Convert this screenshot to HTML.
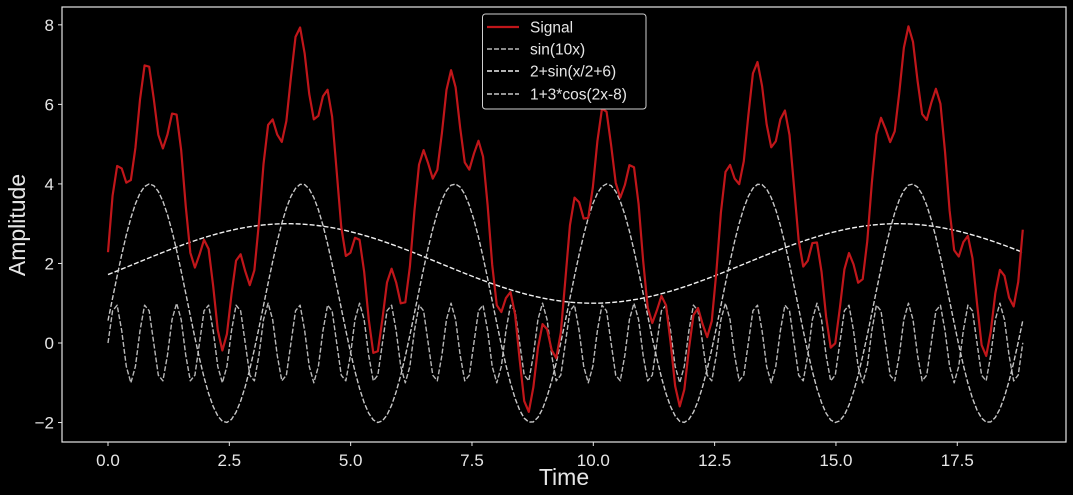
<!DOCTYPE html>
<html><head><meta charset="utf-8"><style>
html,body{margin:0;padding:0;background:#000;}
svg{display:block;font-family:"Liberation Sans","DejaVu Sans",sans-serif;}
</style></head><body>
<svg id="chart" width="1073" height="495" xmlns="http://www.w3.org/2000/svg">
<rect width="1073" height="495" fill="#000"/>
<g id="series"></g>
<rect x="62" y="7" width="1004" height="435" fill="none" stroke="#e6e6e6" stroke-width="1.2"/>
<g id="axes"></g>
<text x="564" y="485" fill="#e6e6e6" font-size="23" text-anchor="middle">Time</text>
<text x="0" y="0" transform="translate(25,225) rotate(-90)" fill="#e6e6e6" font-size="23" text-anchor="middle">Amplitude</text>
<g>
<rect x="482.5" y="14" width="163.5" height="95" rx="3" fill="#000" stroke="#cfcfcf" stroke-width="1"/>
<g><line x1="487" y1="27" x2="519" y2="27" stroke="#c0161a" stroke-width="2.2"/><text x="530" y="32.5" fill="#e6e6e6" font-size="15.5">Signal</text></g>
<g><line x1="487" y1="49" x2="519" y2="49" stroke="#b8b8b8" stroke-width="1.4" stroke-dasharray="5,2"/><text x="530" y="54.5" fill="#e6e6e6" font-size="15.5">sin(10x)</text></g>
<g><line x1="487" y1="71" x2="519" y2="71" stroke="#f0f0f0" stroke-width="1.4" stroke-dasharray="5,2"/><text x="530" y="76.5" fill="#e6e6e6" font-size="15.5">2+sin(x/2+6)</text></g>
<g><line x1="487" y1="94" x2="519" y2="94" stroke="#c8c8c8" stroke-width="1.4" stroke-dasharray="5,2"/><text x="530" y="99.5" fill="#e6e6e6" font-size="15.5">1+3*cos(2x-8)</text></g>
</g>
</svg>
<script>
// Component parameters (from legend): offset + amp * wave(freq*x + phase)
const componentNames = ["sin(10x)", "2+sin(x/2+6)", "1+3*cos(2x-8)"];
const componentOffsets = [0, 2, 1];
const componentAmps = [1, 1, 3];
const componentFreqs = [10, 0.5, 2];
const componentPhases = [0, 6, -8];
const componentWaves = ["sin", "sin", "cos"];
const xDomain = [0, 18.85];
const xTickLabels = ["0.0", "2.5", "5.0", "7.5", "10.0", "12.5", "15.0", "17.5"];
const xTickValues = [0, 2.5, 5, 7.5, 10, 12.5, 15, 17.5];
const yTickValues = [-2, 0, 2, 4, 6, 8];
const yTickLabels = ["\u22122", "0", "2", "4", "6", "8"];

const NS = "http://www.w3.org/2000/svg";
const xs = v => 108 + v * 48.53;
const ys = v => 343 - v * 39.77;
const colors = ["#b8b8b8", "#f0f0f0", "#c8c8c8"];
const N = 200;
const xvals = [];
for (let i = 0; i <= N; i++) xvals.push(xDomain[0] + (xDomain[1] - xDomain[0]) * i / N);
function comp(k, x) {
  const a = componentFreqs[k] * x + componentPhases[k];
  return componentOffsets[k] + componentAmps[k] * (componentWaves[k] === "sin" ? Math.sin(a) : Math.cos(a));
}
const series = document.getElementById("series");
function mkPath(vals, color, w, dash, name) {
  const p = document.createElementNS(NS, "path");
  p.setAttribute("d", vals.map((v, i) => (i ? "L" : "M") + xs(xvals[i]).toFixed(2) + "," + ys(v).toFixed(2)).join(""));
  p.setAttribute("fill", "none");
  p.setAttribute("stroke", color);
  p.setAttribute("stroke-width", w);
  p.setAttribute("stroke-linejoin", "round");
  if (dash) p.setAttribute("stroke-dasharray", dash);
  
  
  series.appendChild(p);
}
const names = ["sin10x-line", "slow-sine-line", "cosine-line"];
const signal = xvals.map(x => 0);
for (let k = 0; k < componentNames.length; k++) {
  const vals = xvals.map(x => comp(k, x));
  vals.forEach((v, i) => signal[i] += v);
  mkPath(vals, colors[k], 1.4, "5,2", names[k]);
}
mkPath(signal, "#c0161a", 2.2, null, "signal-line");

const axes = document.getElementById("axes");
function addEl(tag, attrs, text) {
  const e = document.createElementNS(NS, tag);
  for (const k in attrs) e.setAttribute(k, attrs[k]);
  if (text !== undefined) e.textContent = text;
  axes.appendChild(e);
  return e;
}
xTickValues.forEach((v, i) => {
  const x = xs(v);
  const t = addEl("line", {x1: x, y1: 442, x2: x, y2: 446, stroke: "#e6e6e6", "stroke-width": 1});
  
  
  const l = addEl("text", {x: x, y: 466, fill: "#e6e6e6", "font-size": 17, "text-anchor": "middle"}, xTickLabels[i]);
  
  
});
yTickValues.forEach((v, i) => {
  const y = ys(v);
  const t = addEl("line", {x1: 58, y1: y, x2: 62, y2: y, stroke: "#e6e6e6", "stroke-width": 1});
  
  
  const l = addEl("text", {x: 54, y: y + 6, fill: "#e6e6e6", "font-size": 17, "text-anchor": "end"}, yTickLabels[i]);
  
  
});
</script>
</body></html>
